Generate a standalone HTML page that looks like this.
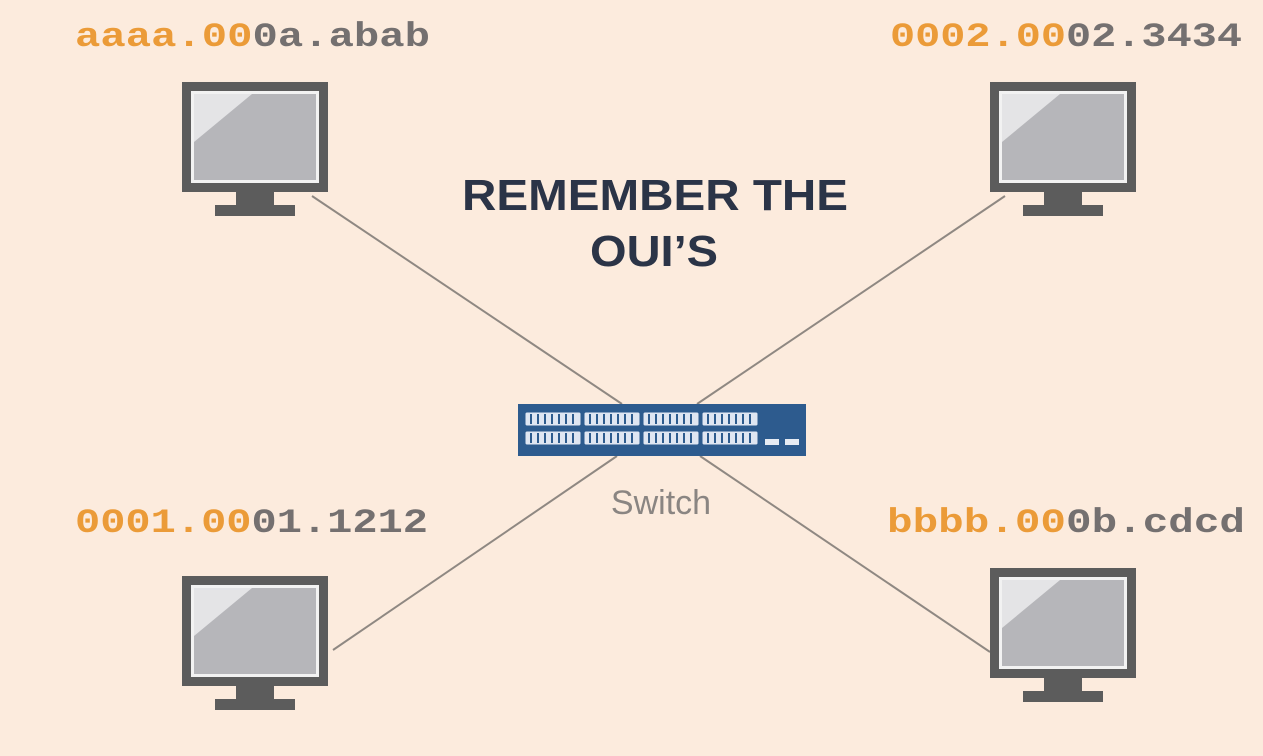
<!DOCTYPE html>
<html><head><meta charset="utf-8"><style>
html,body{margin:0;padding:0;background:#fcebdd;}
svg{display:block}
</style></head><body>
<svg width="1263" height="756" viewBox="0 0 1263 756" xmlns="http://www.w3.org/2000/svg">
<defs>
<g id="mon">
<rect x="0" y="0" width="146" height="110" fill="#5c5c5c"/>
<rect x="9" y="9" width="128" height="92" fill="#f2f2f2"/>
<rect x="12" y="12" width="122" height="86" fill="#b6b6ba"/>
<polygon points="12,12 70,12 12,60" fill="#e4e4e6"/>
<rect x="54" y="110" width="38" height="14" fill="#5c5c5c"/>
<rect x="33" y="123" width="80" height="11" fill="#5c5c5c"/>
</g>
</defs>
<rect width="1263" height="756" fill="#fcebdd"/>
<g stroke="#8f8882" stroke-width="2">
<line x1="312" y1="196" x2="622" y2="404"/>
<line x1="1005" y1="196" x2="697" y2="404"/>
<line x1="333" y1="650" x2="617" y2="456"/>
<line x1="990" y1="652" x2="700" y2="456"/>
</g>
<use href="#mon" x="182" y="82"/>
<use href="#mon" x="990" y="82"/>
<use href="#mon" x="182" y="576"/>
<use href="#mon" x="990" y="568"/>
<rect x="518" y="404" width="288" height="52" fill="#2d5b8e"/>
<g fill="#dfe6f2" stroke="#2d5b8e" stroke-width="1">
<rect x="525" y="412" width="56" height="14" rx="2"/><rect x="584" y="412" width="56" height="14" rx="2"/><rect x="643" y="412" width="56" height="14" rx="2"/><rect x="702" y="412" width="56" height="14" rx="2"/>
<rect x="525" y="431" width="56" height="14" rx="2"/><rect x="584" y="431" width="56" height="14" rx="2"/><rect x="643" y="431" width="56" height="14" rx="2"/><rect x="702" y="431" width="56" height="14" rx="2"/>
</g>
<g stroke="#2d5b8e" stroke-width="2">
<path d="M531 414v10M538 414v10M545 414v10M552 414v10M559 414v10M566 414v10M573 414v10M590 414v10M597 414v10M604 414v10M611 414v10M618 414v10M625 414v10M632 414v10M649 414v10M656 414v10M663 414v10M670 414v10M677 414v10M684 414v10M691 414v10M708 414v10M715 414v10M722 414v10M729 414v10M736 414v10M743 414v10M750 414v10"/>
<path d="M531 433v10M538 433v10M545 433v10M552 433v10M559 433v10M566 433v10M573 433v10M590 433v10M597 433v10M604 433v10M611 433v10M618 433v10M625 433v10M632 433v10M649 433v10M656 433v10M663 433v10M670 433v10M677 433v10M684 433v10M691 433v10M708 433v10M715 433v10M722 433v10M729 433v10M736 433v10M743 433v10M750 433v10"/>
</g>
<rect x="765" y="439" width="14" height="6" fill="#e6ebf3"/>
<rect x="785" y="439" width="14" height="6" fill="#e6ebf3"/>
<g font-family="Liberation Mono, monospace" font-weight="bold" font-size="34">
<text x="75" y="46" textLength="355" lengthAdjust="spacingAndGlyphs"><tspan fill="#eb9b38">aaaa.00</tspan><tspan fill="#747070">0a.abab</tspan></text>
<text x="890" y="46" textLength="352" lengthAdjust="spacingAndGlyphs"><tspan fill="#eb9b38">0002.00</tspan><tspan fill="#747070">02.3434</tspan></text>
<text x="75" y="532" textLength="353" lengthAdjust="spacingAndGlyphs"><tspan fill="#eb9b38">0001.00</tspan><tspan fill="#747070">01.1212</tspan></text>
<text x="887" y="532" textLength="358" lengthAdjust="spacingAndGlyphs"><tspan fill="#eb9b38">bbbb.00</tspan><tspan fill="#747070">0b.cdcd</tspan></text>
</g>
<g font-family="Liberation Sans, sans-serif" font-weight="bold" font-size="44" fill="#2b3447" text-anchor="middle">
<text x="655" y="210" textLength="386" lengthAdjust="spacingAndGlyphs">REMEMBER THE</text>
<text x="654" y="266" textLength="128" lengthAdjust="spacingAndGlyphs">OUI’S</text>
</g>
<text x="661" y="514" font-family="Liberation Sans, sans-serif" font-size="34" fill="#8a8582" text-anchor="middle">Switch</text>
</svg>
</body></html>
